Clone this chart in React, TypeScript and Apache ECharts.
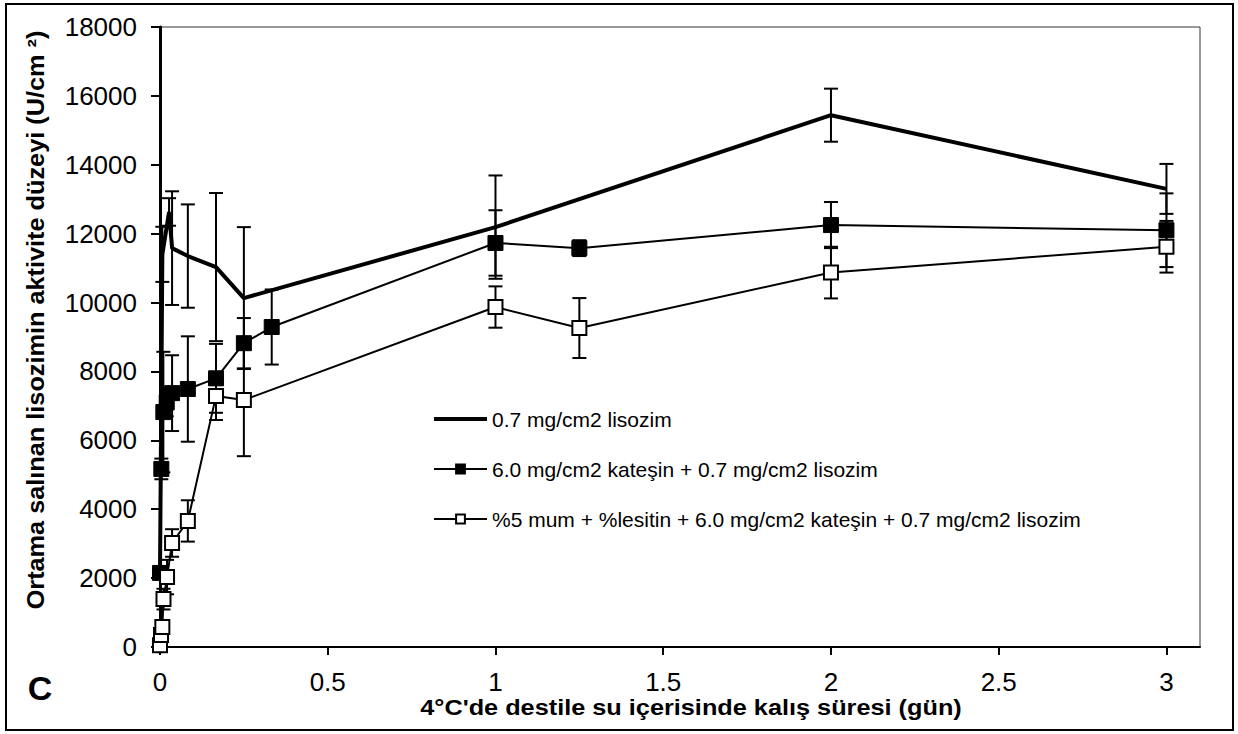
import React, { useEffect, useRef } from "react";
import * as echarts from "echarts";

// ---- data (x in days, y in U/cm2, err = ± error bar) ----
const seriesNames = [
  "0.7 mg/cm2 lisozim",
  "6.0 mg/cm2 kateşin + 0.7 mg/cm2 lisozim",
  "%5 mum + %lesitin + 6.0 mg/cm2 kateşin + 0.7 mg/cm2 lisozim",
];

const xA = [0, 0.007, 0.027, 0.036, 0.083, 0.167, 0.25, 1, 2, 3];
const yA = [2150, 11400, 12630, 11580, 11350, 11030, 10130, 12190, 15440, 13300];
const eA = [0, 800, 400, 1650, 1500, 2150, 2060, 1500, 770, 725];

const xB = [0, 0.004, 0.01, 0.02, 0.036, 0.083, 0.167, 0.25, 0.333, 1, 1.25, 2, 3];
const yB = [2150, 5170, 6820, 7100, 7370, 7490, 7800, 8820, 9290, 11730, 11580, 12250, 12100];
const eB = [0, 300, 1750, 400, 1100, 1530, 1000, 730, 1090, 950, 230, 670, 1070];

const xC = [0, 0.003, 0.007, 0.0104, 0.021, 0.036, 0.083, 0.167, 0.25, 1, 1.25, 2, 3];
const yC = [50, 350, 580, 1390, 2030, 3020, 3660, 7290, 7170, 9870, 9260, 10870, 11620];
const eC = [0, 100, 200, 300, 500, 400, 600, 700, 1630, 600, 870, 750, 750];

const xTicks = [0, 0.5, 1, 1.5, 2, 2.5, 3];

const FONT = "'Liberation Sans', Arial, sans-serif";

function pts(xs: number[], ys: number[]) {
  return xs.map((x, i) => [x, ys[i]]);
}
function errPts(xs: number[], ys: number[], es: number[]) {
  return xs.map((x, i) => [x, ys[i], es[i]]).filter((d) => d[2] > 0);
}

function errorSeries(data: number[][], z: number) {
  return {
    type: "custom",
    silent: true,
    z,
    data,
    encode: { x: 0, y: 1 },
    renderItem: (params: any, api: any) => {
      const x = api.value(0);
      const y = api.value(1);
      const e = api.value(2);
      const top = api.coord([x, y + e]);
      const bot = api.coord([x, y - e]);
      const hw = 7;
      const st = { stroke: "#000", lineWidth: 2 };
      return {
        type: "group",
        children: [
          { type: "line", shape: { x1: top[0], y1: top[1], x2: bot[0], y2: bot[1] }, style: st },
          { type: "line", shape: { x1: top[0] - hw, y1: top[1], x2: top[0] + hw, y2: top[1] }, style: st },
          { type: "line", shape: { x1: bot[0] - hw, y1: bot[1], x2: bot[0] + hw, y2: bot[1] }, style: st },
        ],
      };
    },
  };
}

export default function App() {
  const ref = useRef<HTMLDivElement>(null);
  useEffect(() => {
    if (!ref.current) return;
    const chart = echarts.init(ref.current, undefined, { renderer: "svg" });
    chart.setOption({
      animation: false,
      backgroundColor: "#fff",
      grid: {
        left: 160,
        top: 27,
        right: 38,
        bottom: 87,
        show: true,
        borderColor: "#333",
        borderWidth: 1,
        backgroundColor: "transparent",
      },
      xAxis: {
        type: "value",
        min: 0,
        max: 3.1,
        interval: 0.5,
        splitLine: { show: false },
        axisLine: { show: true, onZero: false, lineStyle: { color: "#000", width: 2 } },
        axisTick: { show: true, inside: false, length: 8, customValues: xTicks, lineStyle: { color: "#000", width: 2 } },
        axisLabel: {
          customValues: xTicks,
          color: "#000",
          fontSize: 26,
          fontFamily: FONT,
          margin: 22,
          formatter: (v: number) => String(v),
        },
      },
      yAxis: {
        type: "value",
        min: 0,
        max: 18000,
        interval: 2000,
        splitLine: { show: false },
        axisLine: { show: true, onZero: false, lineStyle: { color: "#000", width: 3 } },
        axisTick: { show: true, inside: false, length: 9, lineStyle: { color: "#000", width: 2 } },
        axisLabel: {
          color: "#000",
          fontSize: 26,
          fontFamily: FONT,
          margin: 23,
          formatter: (v: number) => String(v),
        },
      },
      legend: {
        show: true,
        orient: "vertical",
        left: 428,
        top: 402,
        itemWidth: 53,
        itemHeight: 11,
        itemGap: 26,
        textStyle: { color: "#000", fontSize: 21, fontFamily: FONT, lineHeight: 24 },
        data: [
          { name: seriesNames[0], icon: "path://M0,0L53,0L53,4L0,4Z", itemStyle: { color: "#000" } },
          { name: seriesNames[1] },
          { name: seriesNames[2] },
        ],
      },
      series: [
        errorSeries(errPts(xA, yA, eA), 1),
        errorSeries(errPts(xB, yB, eB), 1),
        errorSeries(errPts(xC, yC, eC), 1),
        {
          name: seriesNames[0],
          type: "line",
          z: 3,
          data: pts(xA, yA),
          symbol: "none",
          lineStyle: { color: "#000", width: 4 },
          itemStyle: { color: "#000" },
        },
        {
          name: seriesNames[1],
          type: "line",
          z: 4,
          data: pts(xB, yB),
          symbol: "rect",
          symbolSize: 15,
          lineStyle: { color: "#000", width: 2 },
          itemStyle: { color: "#000", borderColor: "#000", borderWidth: 1 },
        },
        {
          name: seriesNames[2],
          type: "line",
          z: 5,
          data: pts(xC, yC),
          symbol: "rect",
          symbolSize: 14,
          lineStyle: { color: "#000", width: 2 },
          itemStyle: { color: "#fff", borderColor: "#000", borderWidth: 2 },
        },
      ],
      graphic: [
        {
          type: "rect",
          shape: { x: 6, y: 4, width: 1227, height: 726 },
          style: { fill: "none", stroke: "#000", lineWidth: 2 },
          silent: true,
          z: 100,
        },
        {
          type: "text",
          x: 36,
          y: 320,
          rotation: Math.PI / 2,
          scaleX: 1.1,
          style: {
            text: "Ortama salınan lisozimin aktivite düzeyi (U/cm ²)",
            fontSize: 23,
            fontWeight: "bold",
            fontFamily: FONT,
            fill: "#000",
            align: "center",
            verticalAlign: "middle",
          },
        },
        {
          type: "text",
          x: 691,
          y: 708,
          scaleX: 1.15,
          style: {
            text: "4°C'de destile su içerisinde kalış süresi (gün)",
            fontSize: 22,
            fontWeight: "bold",
            fontFamily: FONT,
            fill: "#000",
            align: "center",
            verticalAlign: "middle",
          },
        },
        {
          type: "text",
          x: 40,
          y: 688,
          style: {
            text: "C",
            fontSize: 34,
            fontWeight: "bold",
            fontFamily: FONT,
            fill: "#000",
            align: "center",
            verticalAlign: "middle",
          },
        },
      ],
    });
    return () => chart.dispose();
  }, []);
  return (
    <div
      ref={ref}
      style={{ position: "fixed", left: 0, top: 0, width: 1238, height: 734 }}
    />
  );
}
